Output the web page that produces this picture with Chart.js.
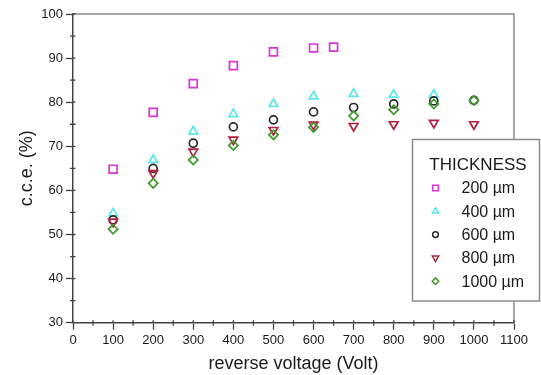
<!DOCTYPE html>
<html>
<head>
<meta charset="utf-8">
<script src="https://cdn.jsdelivr.net/npm/chart.js@4/dist/chart.umd.min.js"></script>
<style>
  html, body { margin: 0; padding: 0; background: #fff; }
  #wrap { width: 541px; height: 375px; position: relative; }
</style>
</head>
<body>
<div id="wrap"><canvas id="c" width="541" height="375"></canvas></div>
<script>
// ---- data ----
const voltage = [100, 200, 300, 400, 500, 600, 700, 800, 900, 1000];
const voltage200 = [100, 200, 300, 400, 500, 600, 650];
const cce200 = [64.8, 77.7, 84.2, 88.3, 91.4, 92.3, 92.5];
const cce400 = [54.8, 66.9, 73.4, 77.3, 79.6, 81.3, 81.9, 81.7, 81.7];
const cce600 = [53.3, 65.0, 70.7, 74.4, 76.0, 77.8, 78.8, 79.6, 80.3, 80.4];
const cce800 = [52.9, 63.9, 68.8, 71.5, 73.7, 74.9, 74.6, 75.0, 75.3, 75.0];
const cce1000 = [51.2, 61.6, 66.9, 70.2, 72.6, 74.3, 76.9, 78.3, 79.6, 80.4];
const seriesLabels = ['200 µm', '400 µm', '600 µm', '800 µm', '1000 µm'];
const legendTitle = 'THICKNESS';
const xTitle = 'reverse voltage (Volt)';
const yTitle = 'c.c.e. (%)';

const FONT = "'Liberation Sans', Arial, Helvetica, sans-serif";

function pts(xs, ys) { return ys.map((v, i) => ({ x: xs[i], y: v })); }

const styles = [
  { color: '#d934d9', pointStyle: 'rect', radius: 5.6, rotation: 0 },
  { color: '#5fe6ea', pointStyle: 'triangle', radius: 5, rotation: 0 },
  { color: '#2a2a2a', pointStyle: 'circle', radius: 4, rotation: 0 },
  { color: '#b3213f', pointStyle: 'triangle', radius: 5, rotation: 180 },
  { color: '#3f9a2c', pointStyle: 'rectRot', radius: 4.6, rotation: 0 }
];
const seriesData = [
  pts(voltage200, cce200),
  pts(voltage, cce400),
  pts(voltage, cce600),
  pts(voltage, cce800),
  pts(voltage, cce1000)
];

const datasets = seriesData.map((d, i) => ({
  label: seriesLabels[i],
  data: d,
  showLine: false,
  order: 5 - i,
  pointStyle: styles[i].pointStyle,
  pointRadius: styles[i].radius,
  pointRotation: styles[i].rotation,
  pointBorderWidth: 1.7,
  pointBorderColor: styles[i].color,
  pointBackgroundColor: 'rgba(255,255,255,0)',
  borderColor: styles[i].color,
  backgroundColor: 'rgba(255,255,255,0)'
}));

// minor ticks + frame (top/right) plugin
const framePlugin = {
  id: 'frame',
  beforeDatasetsDraw(chart) {
    const { ctx, chartArea: a } = chart;
    ctx.save();
    ctx.strokeStyle = '#8a8a8a';
    ctx.lineWidth = 1.5;
    ctx.beginPath();
    ctx.moveTo(a.left, a.top);
    ctx.lineTo(a.right, a.top);
    ctx.lineTo(a.right, a.bottom);
    ctx.stroke();
    // minor ticks
    ctx.strokeStyle = '#444';
    ctx.lineWidth = 1.3;
    const xs = chart.scales.x, ys = chart.scales.y;
    ctx.beginPath();
    for (let v = xs.min + 50; v < xs.max; v += 100) {
      const px = xs.getPixelForValue(v);
      ctx.moveTo(px, a.bottom - 2.5);
      ctx.lineTo(px, a.bottom + 3);
    }
    for (let v = ys.min + 5; v < ys.max; v += 10) {
      const py = ys.getPixelForValue(v);
      ctx.moveTo(a.left - 3, py);
      ctx.lineTo(a.left + 2.5, py);
    }
    // major ticks inner stub
    for (let v = xs.min; v <= xs.max; v += 100) {
      const px = xs.getPixelForValue(v);
      ctx.moveTo(px, a.bottom - 2.5);
      ctx.lineTo(px, a.bottom);
    }
    for (let v = ys.min; v <= ys.max; v += 10) {
      const py = ys.getPixelForValue(v);
      ctx.moveTo(a.left, py);
      ctx.lineTo(a.left + 2.5, py);
    }
    ctx.stroke();
    ctx.restore();
  }
};

// boxed legend with title
const boxLegend = {
  id: 'boxLegend',
  afterDatasetsDraw(chart) {
    const { ctx, chartArea: a } = chart;
    const left = a.right - 101.5, top = 139.5, w = 127, h = 161.5;
    ctx.save();
    ctx.fillStyle = '#fff';
    ctx.strokeStyle = '#8a8a8a';
    ctx.lineWidth = 1.5;
    ctx.fillRect(left, top, w, h);
    ctx.strokeRect(left, top, w, h);
    ctx.fillStyle = '#1a1a1a';
    ctx.font = '17px ' + FONT;
    ctx.textAlign = 'center';
    ctx.textBaseline = 'alphabetic';
    ctx.fillText(legendTitle, left + w / 2 + 2, top + 30.5);
    ctx.font = '16px ' + FONT;
    ctx.textAlign = 'left';
    ctx.textBaseline = 'middle';
    chart.data.datasets.forEach((ds, i) => {
      const cy = top + 48.5 + i * 23.3;
      ctx.strokeStyle = ds.pointBorderColor;
      ctx.fillStyle = 'rgba(0,0,0,0)';
      ctx.lineWidth = 1.5;
      Chart.helpers.drawPoint(ctx, {
        pointStyle: ds.pointStyle,
        rotation: ds.pointRotation,
        radius: ds.pointRadius * 0.72,
        borderWidth: 1.5
      }, left + 23, cy);
      ctx.fillStyle = '#1a1a1a';
      ctx.fillText(ds.label, left + 49, cy + 1);
    });
    ctx.restore();
  }
};

new Chart(document.getElementById('c'), {
  type: 'scatter',
  data: { datasets },
  options: {
    responsive: false,
    animation: false,
    events: [],
    layout: { padding: { top: 14, right: 27, left: 0, bottom: 0 } },
    plugins: { legend: { display: false }, tooltip: { enabled: false } },
    scales: {
      x: {
        type: 'linear',
        min: 0, max: 1100,
        ticks: { stepSize: 100, color: '#1a1a1a', font: { family: FONT, size: 13 }, padding: 3, maxRotation: 0, callback: (v) => String(v) },
        grid: { display: true, drawOnChartArea: false, drawTicks: true, tickLength: 7, color: '#444', tickWidth: 1.3 },
        border: { display: true, color: '#444', width: 1.5 },
        title: { display: true, text: xTitle, color: '#1a1a1a', font: { family: FONT, size: 18 }, padding: { top: 0, bottom: 0 } },
        afterFit(scale) { scale.height = 52.3; }
      },
      y: {
        type: 'linear',
        min: 30, max: 100,
        ticks: { stepSize: 10, color: '#1a1a1a', font: { family: FONT, size: 13 }, padding: 3, callback: (v) => String(v) },
        grid: { display: true, drawOnChartArea: false, drawTicks: true, tickLength: 7, color: '#444', tickWidth: 1.3 },
        border: { display: true, color: '#444', width: 1.5 },
        title: { display: true, text: yTitle, color: '#1a1a1a', font: { family: FONT, size: 18 }, padding: { top: 16, bottom: 0 } },
        afterFit(scale) { scale.width = 73; }
      }
    }
  },
  plugins: [framePlugin, boxLegend]
});
</script>
</body>
</html>
